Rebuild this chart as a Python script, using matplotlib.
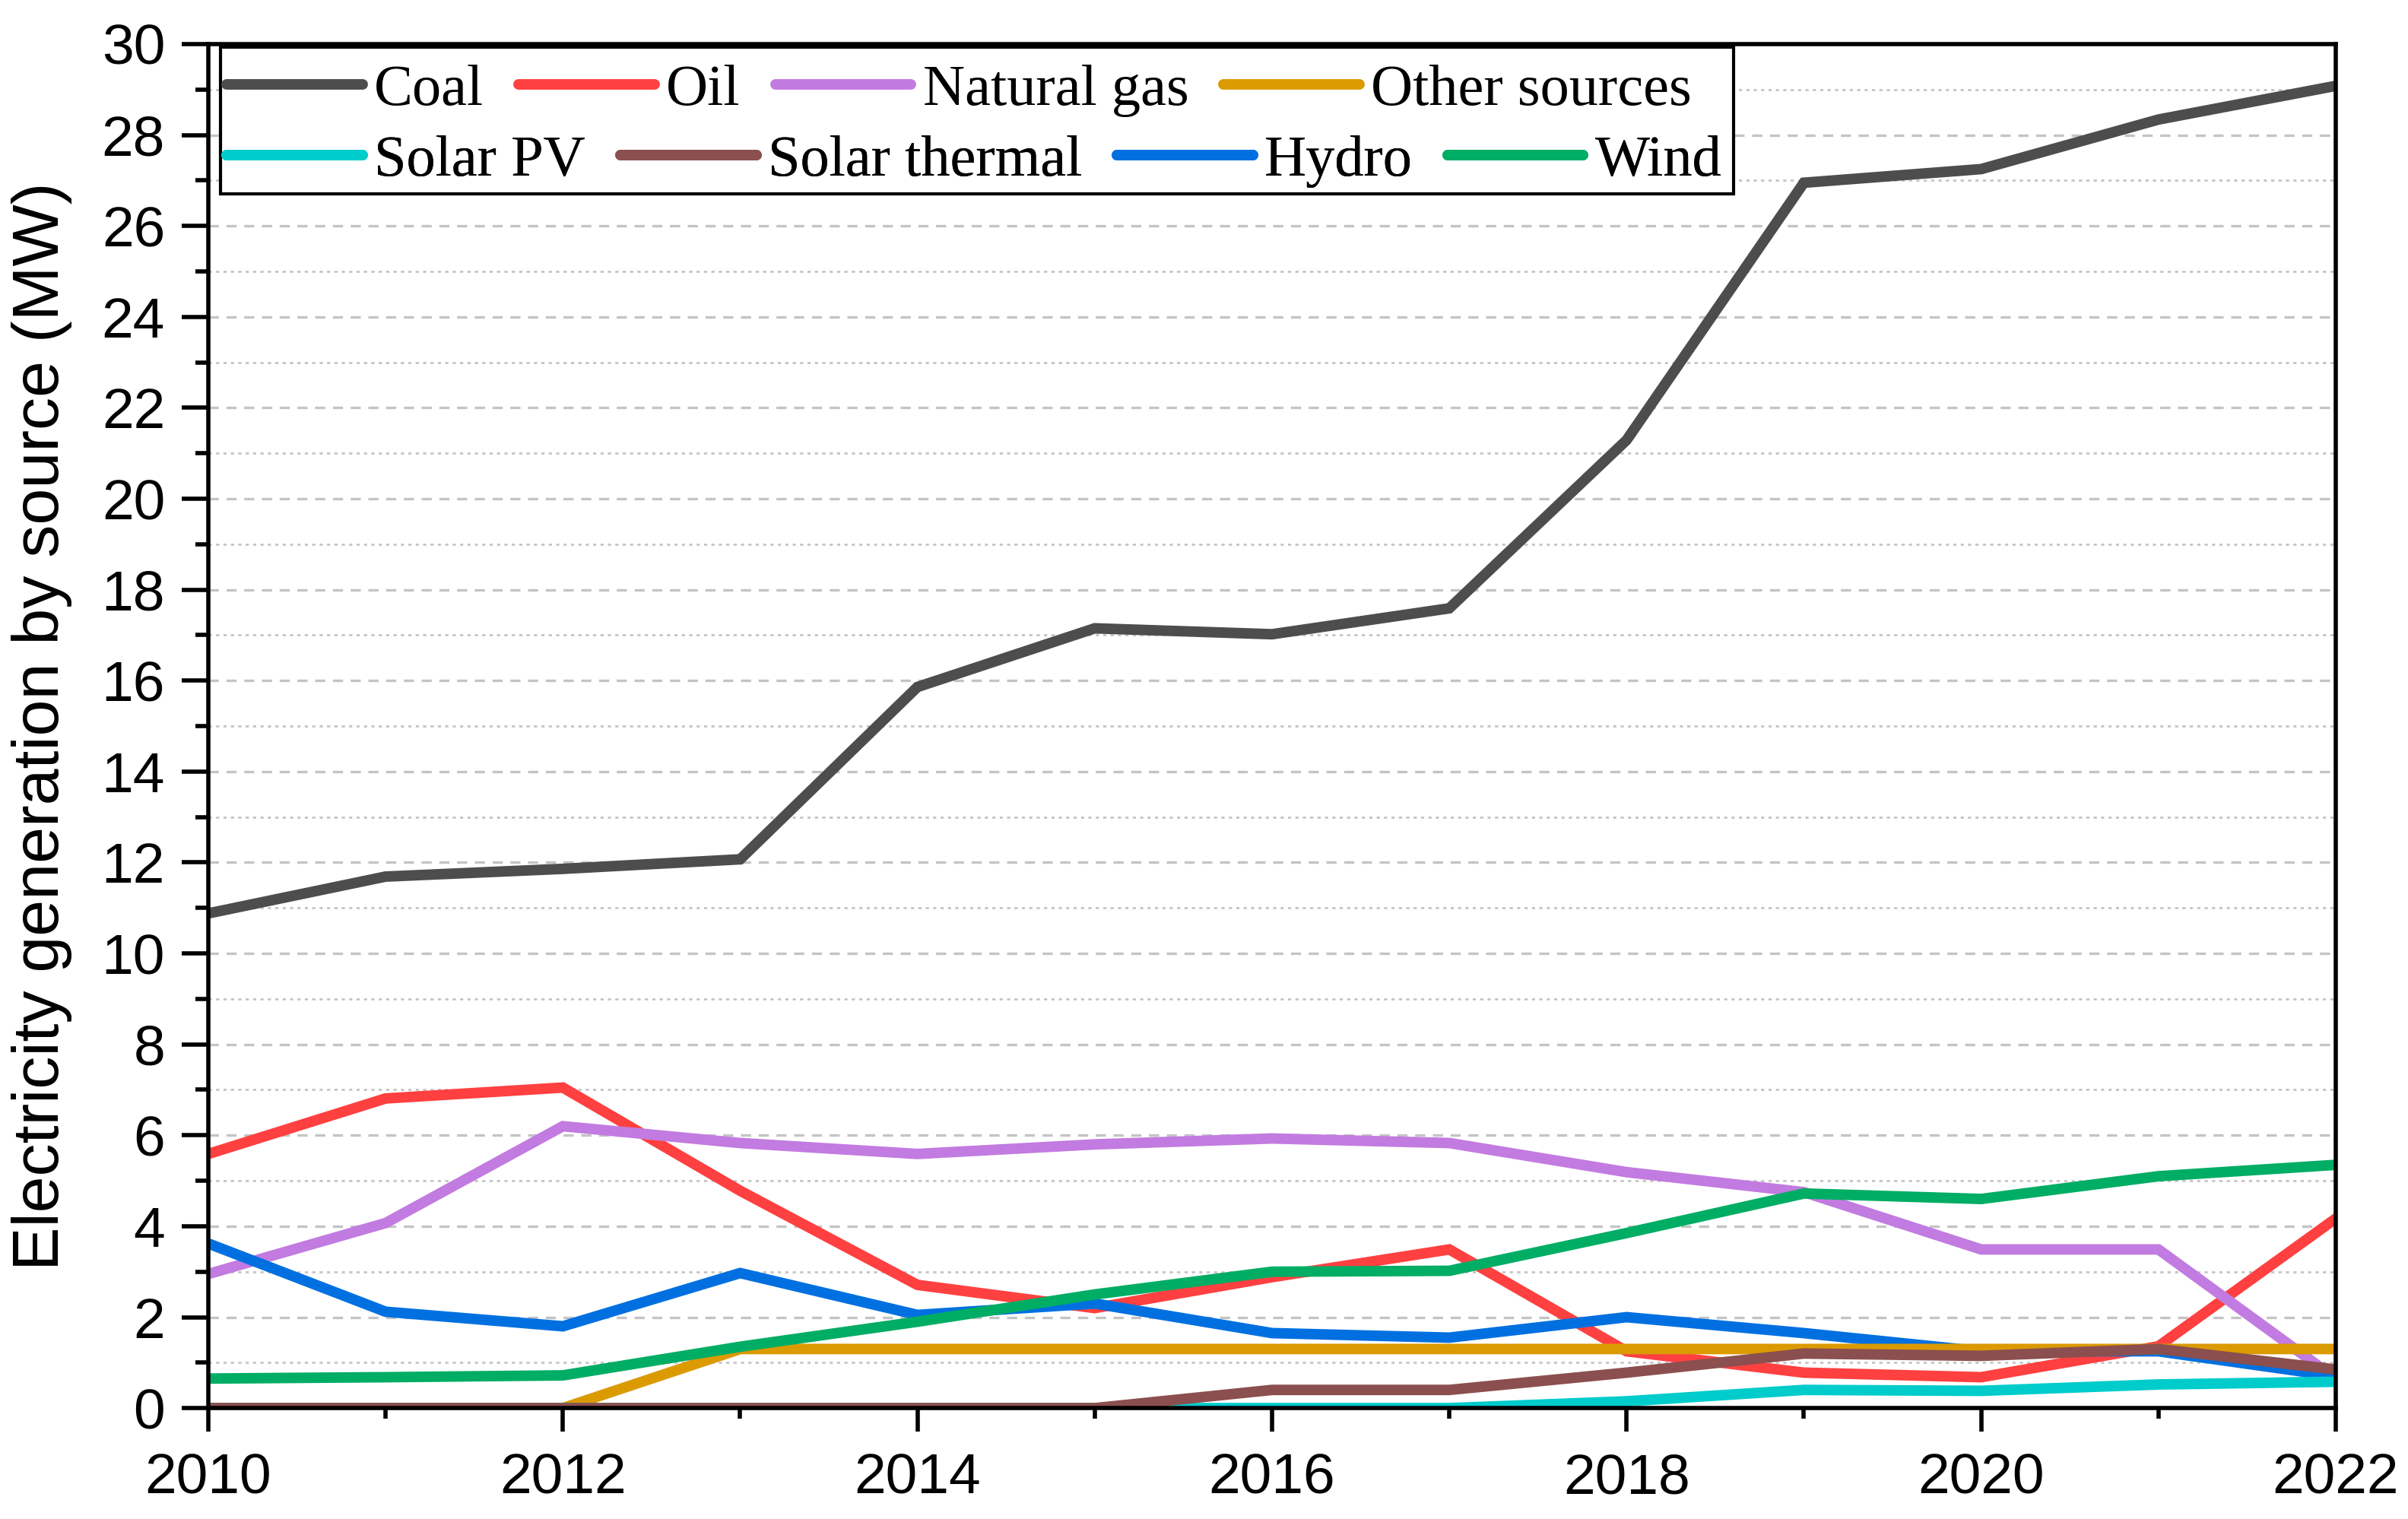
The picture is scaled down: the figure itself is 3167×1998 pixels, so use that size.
import matplotlib
matplotlib.use("Agg")
import matplotlib.pyplot as plt
from matplotlib.patches import Rectangle
from matplotlib.ticker import MultipleLocator

years = list(range(2010, 2023))
coal = [10.88, 11.69, 11.86, 12.07, 15.86, 17.15, 17.02, 17.59, 21.29, 26.95, 27.25, 28.34, 29.08]
oil = [5.59, 6.81, 7.05, 4.78, 2.71, 2.20, 2.88, 3.49, 1.25, 0.78, 0.68, 1.36, 4.17]
natural_gas = [2.95, 4.07, 6.20, 5.83, 5.59, 5.80, 5.93, 5.83, 5.19, 4.75, 3.49, 3.49, 0.65]
other_sources = [0.0, 0.0, 0.0, 1.30, 1.30, 1.30, 1.30, 1.30, 1.30, 1.30, 1.30, 1.30, 1.30]
solar_pv = [0.0, 0.0, 0.0, 0.0, 0.0, 0.0, 0.0, 0.0, 0.15, 0.40, 0.38, 0.52, 0.58]
solar_thermal = [0.0, 0.0, 0.0, 0.0, 0.0, 0.0, 0.40, 0.40, 0.78, 1.20, 1.15, 1.30, 0.85]
hydro = [3.62, 2.12, 1.80, 2.97, 2.05, 2.30, 1.65, 1.55, 2.00, 1.65, 1.25, 1.25, 0.70]
wind = [0.65, 0.68, 0.72, 1.35, 1.90, 2.50, 3.00, 3.02, 3.85, 4.72, 4.60, 5.10, 5.35]

# name, values, colour, draw order
series = [
    ("Coal", coal, "#4d4d4d", 3),
    ("Oil", oil, "#ff4040", 4),
    ("Natural gas", natural_gas, "#c27be0", 5),
    ("Other sources", other_sources, "#db9a00", 6),
    ("Solar PV", solar_pv, "#00cccc", 7),
    ("Solar thermal", solar_thermal, "#8b4f4f", 8),
    ("Hydro", hydro, "#0070e0", 5.5),
    ("Wind", wind, "#00ad64", 9),
]
row1 = ["Coal", "Oil", "Natural gas", "Other sources"]
row2 = ["Solar PV", "Solar thermal", "Hydro", "Wind"]

plt.rcParams.update({"font.family": "Liberation Sans"})

fig, ax = plt.subplots(figsize=(15.835, 9.99), dpi=200)
fig.subplots_adjust(left=0.0865, right=0.970, top=0.971, bottom=0.073)

handles = {}
for name, vals, col, z in series:
    h, = ax.plot(years, vals, color=col, linewidth=5.0, zorder=z,
                 solid_joinstyle="miter", label=name)
    handles[name] = h

ax.set_xlim(2010, 2022)
ax.set_ylim(0, 30)
ax.xaxis.set_major_locator(MultipleLocator(2))
ax.xaxis.set_minor_locator(MultipleLocator(1))
ax.yaxis.set_major_locator(MultipleLocator(2))
ax.yaxis.set_minor_locator(MultipleLocator(1))

ax.grid(True, which="major", axis="y", color="#c4c4c4", linestyle=(0, (4, 3)), linewidth=1.2, zorder=0)
ax.grid(True, which="minor", axis="y", color="#c4c4c4", linestyle=(0, (1.5, 2)), linewidth=1.0, zorder=0)
ax.set_axisbelow(True)

for s in ax.spines.values():
    s.set_linewidth(2.0)
    s.set_zorder(10)

ax.tick_params(axis="both", which="major", direction="out", length=12.5, width=2.0,
               labelsize=27, pad=8)
ax.tick_params(axis="both", which="minor", direction="out", length=6, width=2.0)
ax.tick_params(axis="x", which="major", length=11, pad=10)
ax.tick_params(axis="x", which="minor", length=5)

ax.set_ylabel("Electricity generation by source (MW)", fontsize=31)
ax.yaxis.set_label_coords(-0.064, 0.5)

# legend: two free-flowing rows inside one black frame
frame = Rectangle((0.0058, 0.890), 0.711, 0.1077, transform=ax.transAxes,
                  facecolor="white", edgecolor="black", linewidth=1.5, zorder=19)
ax.add_patch(frame)
for names, yc in [(row1, 0.966), (row2, 0.914)]:
    leg = ax.legend([handles[n] for n in names], names, ncol=4, loc="center left",
                    bbox_to_anchor=(0.0087, yc), frameon=False,
                    handlelength=2.34, handletextpad=0.2, columnspacing=0.6,
                    borderpad=0, borderaxespad=0,
                    prop={"family": "Liberation Serif", "size": 27.5})
    leg.set_zorder(20)
    for l in leg.get_lines():
        l.set_linewidth(5.0)
        l.set_solid_capstyle("round")
    ax.add_artist(leg)

fig.savefig("out.png", dpi=200)
